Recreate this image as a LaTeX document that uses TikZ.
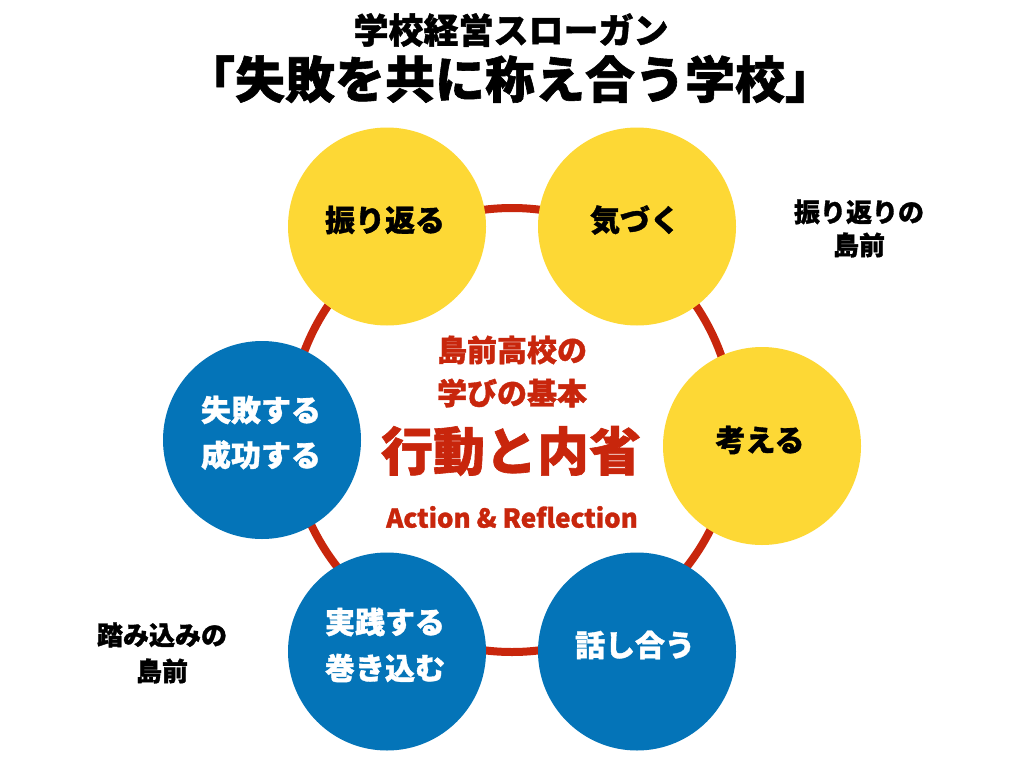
\documentclass[tikz,border=0pt]{standalone}
\usepackage{fontspec}
\newfontfamily\jp{Noto Sans CJK JP}[BoldFeatures={FakeBold=1.2}]
\definecolor{cyel}{HTML}{FDD835}
\definecolor{cblue}{HTML}{0474B8}
\definecolor{cred}{HTML}{C8260C}
\begin{document}
\begin{tikzpicture}[x=1pt,y=-1pt,
  bub/.style={circle,minimum size=198pt,inner sep=0pt},
  ybub/.style={bub,fill=cyel},
  bbub/.style={bub,fill=cblue},
  btxt/.style={font=\jp\bfseries\fontsize{30}{36}\selectfont,text=black,inner sep=0pt},
  wtxt/.style={btxt,text=white},
  rtxt/.style={font=\jp\bfseries\fontsize{30}{36}\selectfont,text=cred,inner sep=0pt},
  side/.style={font=\jp\bfseries\fontsize{26}{32}\selectfont,text=black,inner sep=0pt},
  ring/.style={draw=cred,line width=8pt}]
\useasboundingbox (0,0) rectangle (1024,768);
\fill[white] (0,0) rectangle (1024,768);
% titles
\node[inner sep=0pt,font=\jp\bfseries\fontsize{35}{40}\selectfont] (t1) at (511,30) {学校経営スローガン};
\node[inner sep=0pt,font=\jp\bfseries\fontsize{50}{58}\selectfont] (t2) at (510,79) {「失敗を共に称え合う学校」};
% ring
\coordinate (rc) at (512,430);
\draw[ring] (rc) circle[radius=222];
% circles
\node[ybub] (c1) at (387,226.5) {};
\node[ybub] (c2) at (637,226.5) {};
\node[ybub] (c3) at (762,446) {};
\node[bbub] (c4) at (637,651.5) {};
\node[bbub] (c5) at (387,651.5) {};
\node[bbub] (c6) at (262,440) {};
% circle texts
\node[btxt] (l1) at (385,220) {振り返る};
\node[btxt] (l2) at (635,220) {気づく};
\node[btxt] (l3) at (760,440) {考える};
\node[wtxt] (l4) at (635,645) {話し合う};
\node[wtxt] (l5a) at (385,622) {実践する};
\node[wtxt] (l5b) at (385,668) {巻き込む};
\node[wtxt] (l6a) at (261,410) {失敗する};
\node[wtxt] (l6b) at (261,455) {成功する};
% center texts
\node[rtxt] (m1) at (512,350) {島前高校の};
\node[rtxt] (m2) at (512,393) {学びの基本};
\node[rtxt,font=\jp\bfseries\fontsize{52}{60}\selectfont] (m3) at (511,451) {行動と内省};
\node[rtxt,font=\jp\bfseries\fontsize{26}{30}\selectfont] (m4) at (512,517) {Action \& Reflection};
% side labels
\node[side] (s1a) at (859,212) {振り返りの};
\node[side] (s1b) at (859,245) {島前};
\node[side] (s2a) at (162,635) {踏み込みの};
\node[side] (s2b) at (162,671) {島前};
\end{tikzpicture}
\end{document}
